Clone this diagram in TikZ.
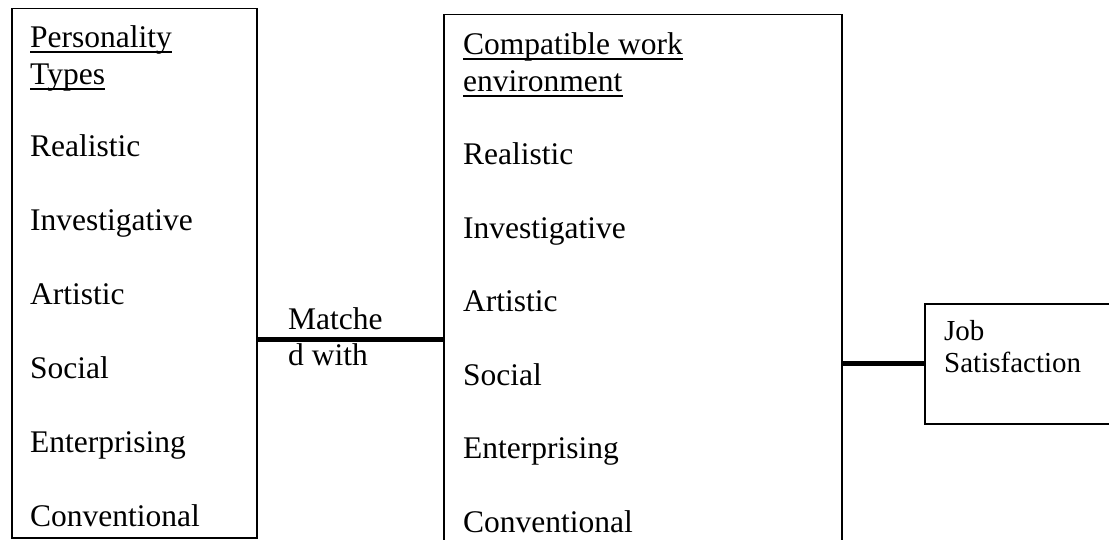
\documentclass[tikz,border=0pt]{standalone}
\usepackage{fontspec}
\setmainfont{Liberation Serif}
\usetikzlibrary{positioning}

\begin{document}
\begin{tikzpicture}[x=1pt, y=-1pt,
    box/.style={draw, line width=1.5pt, inner sep=0pt, anchor=north west},
    txt/.style={inner sep=0pt, anchor=base west, font=\fontsize{31.5}{37}\selectfont},
    small/.style={inner sep=0pt, anchor=base west, font=\fontsize{29}{32}\selectfont},
    link/.style={line width=5pt},
    ul/.style={line width=1.3pt}]
                        \useasboundingbox (0, 0) rectangle (1109, 540);

                        \node[box, minimum width=245pt, minimum height=529pt] (types) at (11, 8) {};
                        \node[box, minimum width=398pt, minimum height=540pt] (env) at (443, 14) {};
                        \node[box, minimum width=200pt, minimum height=120pt] (job) at (924, 303) {};

                        \node[txt] (typesA) at (30, 48) {Personality\ };
                        \node[txt] (typesB) at (30, 85) {Types\ };
                        \node[txt] (envA) at (463, 55) {Compatible work\ };
                        \node[txt] (envB) at (463, 92) {environment};
                        \foreach \h in {typesA, typesB, envA, envB} {
                            \draw[ul]
                            ([yshift=-4pt]\h.base west) -- ([yshift=-4pt]\h.base east);
                        }

                        \foreach \name [count=\i from 0] in {Realistic, Investigative, Artistic, Social, Enterprising, Conventional} {
                            \node[txt] (types-\i) at (30, 157 + 73.8*\i) {\name};
                            \node[txt] (env-\i) at (463, 165 + 73.4*\i) {\name};
                        }

                        \node[txt] (matchA) at (288, 330) {Matche};
                        \node[txt] (matchB) at (288, 365) {d with};
                        \node[small] (jobA) at (944, 340) {Job};
                        \node[small] (jobB) at (944, 372) {Satisfaction};

                        \coordinate (m1) at (0, 339);
                        \coordinate (m2) at (0, 363);
                        \draw[link]
                        (types.east |- m1) -- (env.west |- m1)
                        (env.east |- m2) -- (job.west |- m2);
                    \end{tikzpicture}
\end{document}
